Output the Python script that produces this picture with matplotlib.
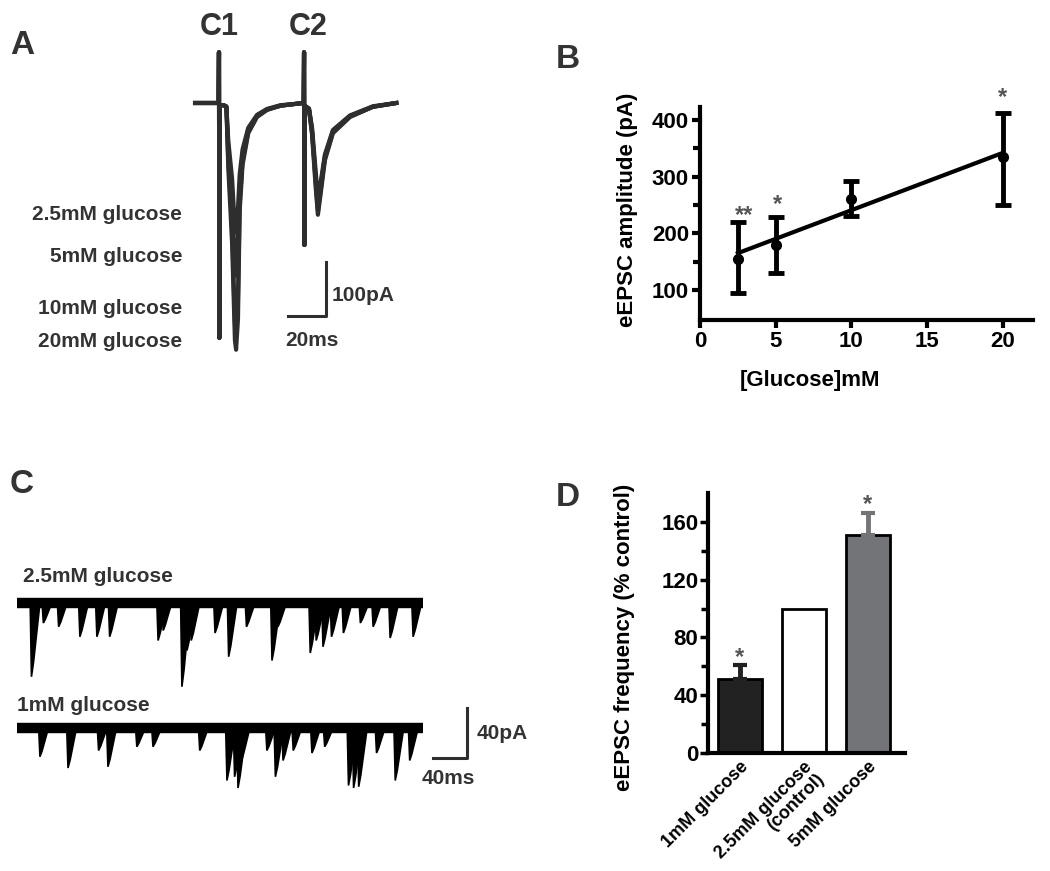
import numpy as np
import matplotlib
matplotlib.use('Agg')
import matplotlib.pyplot as plt

plt.rcParams['font.family'] = ['Liberation Sans', 'DejaVu Sans']
plt.rcParams['font.weight'] = 'bold'

# ---- panel A: evoked EPSC pairs (time in ms, current in pA) ----
t_A = [0, 12.4, 12.6, 12.8, 13.0, 15.0, 16.5, 17.5, 19.5, 21.0, 21.6, 22.6, 23.5,
       25.0, 28.0, 32.6, 37.9, 45.0, 52.0, 57.2, 57.4, 57.6, 57.8, 60.0, 61.6,
       63.5, 64.7, 66.0, 68.4, 72.6, 81.6, 93.7, 106.0]
i_20mM = [0, 0, 94, -435, -4, -4, -8, -120, -260, -440, -457, -400, -200, -115, -56, -26, -13,
          -5, -2, 0, 94, -263, -5, -12, -58, -155, -207, -172, -106, -56, -26, -7, 0]
i_10mM = [0, 0, 94, -435, -4, -4, -8, -105, -230, -410, -425, -360, -185, -108, -54, -25, -12,
          -5, -2, 0, 94, -263, -5, -12, -54, -145, -200, -165, -102, -54, -25, -7, 0]
i_5mM = [0, 0, 94, -435, -4, -4, -7, -85, -170, -310, -320, -250, -155, -97, -50, -24, -12,
         -5, -2, 0, 94, -263, -5, -11, -50, -138, -190, -158, -98, -52, -24, -7, 0]
i_2p5mM = [0, 0, 94, -435, -4, -4, -6, -70, -140, -235, -240, -195, -132, -86, -46, -22, -11,
           -4, -2, 0, 94, -263, -5, -10, -45, -125, -175, -150, -95, -50, -23, -6, 0]
labels_A = ['2.5mM glucose', '5mM glucose', '10mM glucose', '20mM glucose']

# ---- panel B: amplitude vs glucose ----
glc_B = [2.5, 5, 10, 20]
amp_B = [155, 180, 260, 335]
err_lo_B = [60, 50, 30, 85]
err_hi_B = [65, 48, 32, 77]
fit_x = [2.5, 20]
fit_y = [165, 342]
stars_B = ['**', '*', '*']
stars_B_x = [2.9, 5.1, 20]
stars_B_y = [232, 250, 439]

# ---- panel C: spontaneous events (time ms, amplitude pA) ----
ev1_t = [17, 31, 49, 74, 94, 109, 166, 172, 194, 200, 205, 233, 249, 270, 300, 307,
         345, 352, 360, 370, 384, 404, 419, 439, 466]
ev1_a = [59, 16, 19, 27, 27, 27, 30, 22, 67, 38, 30, 24, 43, 19, 46, 19,
         40, 30, 35, 27, 24, 16, 19, 28, 27]
ev2_t = [27, 60, 96, 107, 141, 160, 215, 247, 256, 260, 264, 294, 304, 313, 325, 347,
         362, 390, 396, 402, 423, 445, 462]
ev2_a = [23, 32, 18, 31, 15, 15, 18, 42, 39, 48, 26, 18, 39, 26, 18, 20,
         15, 46, 48, 47, 20, 42, 26]
trace_len = 478
offset2 = -100

# ---- panel D: frequency bars ----
cond_D = ['1mM glucose', '2.5mM glucose\n(control)', '5mM glucose']
freq_D = [51, 100, 151]
freq_err_D = [10, 0, 15]
colors_D = ['#222222', 'white', '#737478']
err_col_D = ['#222222', 'black', '#737478']
stars_D_y = [66, None, 172]

fig = plt.figure(figsize=(10.5, 8.71), dpi=100)
W, H = 1050, 871

def box(l, t, r, b):
    return [l / W, (H - b) / H, (r - l) / W, (b - t) / H]

txt = '#333333'

# panel letters
for s, (x, y) in zip('ABCD', [(22, 45), (568, 60), (22, 484), (568, 497)]):
    fig.text(x / W, 1 - y / H, s, fontsize=24, fontweight='bold', color=txt,
             ha='center', va='center')

# ----- A -----
axA = fig.add_axes(box(185, 45, 410, 360))
for tr in [i_2p5mM, i_5mM, i_10mM, i_20mM]:
    axA.plot(t_A, tr, color='#2e2e2e', lw=3.0, solid_joinstyle='round')
axA.set_xlim(-5.3, 113.2)
axA.set_ylim(-476, 107.4)
axA.axis('off')
axA.text(12.6, 141, 'C1', fontsize=22, color=txt, ha='center', va='center', clip_on=False)
axA.text(59.5, 141, 'C2', fontsize=22, color=txt, ha='center', va='center', clip_on=False)
axA.plot([48.9, 68.9, 68.9], [-394, -394, -294], color='#2e2e2e', lw=2.2)
axA.text(72.0, -356, '100pA', fontsize=15, color=txt, ha='left', va='center')
axA.text(47.5, -439, '20ms', fontsize=15, color=txt, ha='left', va='center')
for s, y in zip(labels_A, [215, 256, 308, 341]):
    fig.text(182 / W, 1 - y / H, s, fontsize=15, color=txt, ha='right', va='center')

# ----- B -----
axB = fig.add_axes(box(700, 107, 1033, 320))
axB.plot(fit_x, fit_y, color='black', lw=3)
axB.errorbar(glc_B, amp_B, yerr=[err_lo_B, err_hi_B], fmt='o', color='black',
             ms=7, elinewidth=3.5, capsize=6, capthick=3.5)
for s, x, y in zip(stars_B, stars_B_x, stars_B_y):
    axB.text(x, y, s, fontsize=17, color='#555555', ha='center', va='center')
axB.set_xlim(0, 22)
axB.set_ylim(47, 423)
axB.set_xticks([0, 5, 10, 15, 20])
axB.set_yticks([100, 200, 300, 400])
axB.set_yticks([150, 250, 350], minor=True)
for sp in ['top', 'right']:
    axB.spines[sp].set_visible(False)
for sp in ['left', 'bottom']:
    axB.spines[sp].set_linewidth(3)
axB.tick_params(which='both', width=3, length=6, labelsize=16, pad=2)
axB.tick_params(which='minor', length=5)
axB.set_ylabel('eEPSC amplitude (pA)', fontsize=16, fontweight='bold')
axB.yaxis.set_label_coords(-0.186, 0.516)
axB.set_xlabel('[Glucose]mM', fontsize=16, fontweight='bold')
axB.xaxis.set_label_coords(0.33, -0.235)

# ----- C -----
axC = fig.add_axes(box(0, 560, 540, 800))
for ev_t, ev_a, off in [(ev1_t, ev1_a, 0), (ev2_t, ev2_a, offset2)]:
    axC.plot([0, trace_len], [off, off], color='black', lw=7.5, solid_capstyle='butt')
    for t, a in zip(ev_t, ev_a):
        axC.fill([t - 1.5, t, t + 2.5, t + 10], [off, off - a, off - a * 0.8, off],
                 color='black', lw=1.2)
axC.set_xlim(-20, 615.3)
axC.set_ylim(-157.6, 34.4)
axC.axis('off')
axC.plot([489.4, 529.4, 529.4], [-124, -124, -84], color='#2e2e2e', lw=2.2)
axC.text(541, -104, '40pA', fontsize=15, color=txt, ha='left', va='center')
axC.text(507, -140, '40ms', fontsize=15, color=txt, ha='center', va='center')
fig.text(23 / W, 1 - 577 / H, '2.5mM glucose', fontsize=15, color=txt, ha='left', va='center')
fig.text(17 / W, 1 - 705 / H, '1mM glucose', fontsize=15, color=txt, ha='left', va='center')

# ----- D -----
axD = fig.add_axes(box(708, 493, 905, 753))
x = np.arange(len(cond_D))
axD.bar(x, freq_D, width=0.7, color=colors_D, edgecolor='black', linewidth=2)
for xi, v, e, c in zip(x, freq_D, freq_err_D, err_col_D):
    if e > 0:
        axD.errorbar(xi, v, yerr=[[0], [e]], color=c, elinewidth=3.5, capsize=5, capthick=3)
for xi, y in zip(x, stars_D_y):
    if y is not None:
        axD.text(xi, y, '*', fontsize=17, color='#555555', ha='center', va='center')
axD.set_xlim(-0.5, 2.58)
axD.set_ylim(0, 180)
axD.set_yticks([0, 40, 80, 120, 160])
axD.set_yticks([20, 60, 100, 140], minor=True)
axD.set_xticks(x)
axD.set_xticklabels(cond_D, rotation=45, ha='right', rotation_mode='anchor', fontsize=13,
                    linespacing=1.0)
for sp in ['top', 'right']:
    axD.spines[sp].set_visible(False)
for sp in ['left', 'bottom']:
    axD.spines[sp].set_linewidth(3)
axD.tick_params(axis='y', which='both', width=2.5, length=6, labelsize=16, pad=1)
axD.tick_params(axis='y', which='minor', length=5)
axD.tick_params(axis='x', length=0, pad=4)
axD.set_ylabel('eEPSC frequency (% control)', fontsize=16, fontweight='bold')
axD.yaxis.set_label_coords(-0.37, 0.446)

fig.savefig('out.png', dpi=100)
